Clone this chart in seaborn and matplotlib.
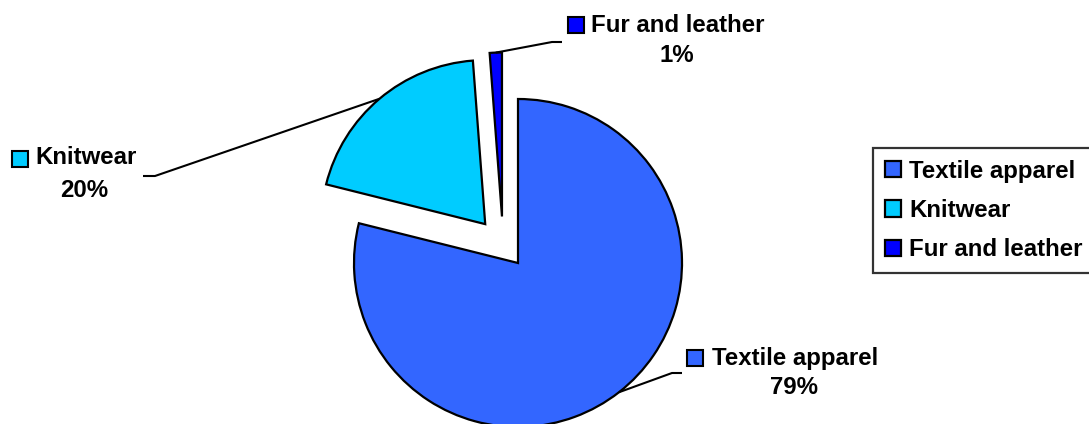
import numpy as np
import matplotlib
matplotlib.use("Agg")
import matplotlib.pyplot as plt
import seaborn as sns

categories = ["Textile apparel", "Knitwear", "Fur and leather"]
values = [78.9, 19.9, 1.2]
pct_labels = ["79%", "20%", "1%"]

sns.set_style("white")
plt.rcParams['font.family'] = ['Liberation Sans', 'DejaVu Sans']
plt.rcParams['text.color'] = 'black'
colors = sns.color_palette(["#3366FF", "#00CCFF", "#0000FF"])

W, H = 1089, 424
R = 164.0          # pie radius in pixels
CX, CY = 518, 263  # pie centre in pixels (from top-left)

fig = plt.figure(figsize=(W / 100, H / 100), dpi=100)
ax = fig.add_axes([0, 0, 1, 1])

def p2d(px, py):
    return ((px - CX) / R, (CY - py) / R)

wedges, _ = ax.pie(values, colors=colors, startangle=90, counterclock=False,
                   explode=[0, 0.31, 0.30], radius=1.0,
                   wedgeprops=dict(edgecolor="black", linewidth=1.6))
# fur slice displacement as drawn in the reference
ang = np.deg2rad(109)
wedges[2].set_center((0.30 * np.cos(ang), 0.30 * np.sin(ang)))

ax.set_xlim(-CX / R, (W - CX) / R)
ax.set_ylim(-(H - CY) / R, CY / R)
ax.set_aspect('auto')
ax.axis('off')

layout = {
    "Textile apparel": dict(sq=(695, 358), tx=712, cx=794, ny=358, py=388, elbow=(672, 373), end=(682, 373)),
    "Knitwear": dict(sq=(20, 159), tx=35, cx=84, ny=158, py=190, elbow=(155, 176), end=(143, 176)),
    "Fur and leather": dict(sq=(576, 25), tx=591, cx=677, ny=25, py=56, elbow=(552, 42), end=(562, 42)),
}

fs = 17.3
for w, name, pct, col in zip(wedges, categories, pct_labels, colors):
    L = layout[name]
    mid = np.deg2rad((w.theta1 + w.theta2) / 2)
    cx, cy = w.center
    ax0 = (cx + w.r * np.cos(mid), cy + w.r * np.sin(mid))
    e = p2d(*L["elbow"])
    en = p2d(*L["end"])
    ax.plot([ax0[0], e[0], en[0]], [ax0[1], e[1], en[1]], color="black", lw=1.5,
            solid_capstyle="butt", zorder=3)
    sx, sy = p2d(*L["sq"])
    ax.plot([sx], [sy], marker="s", ms=11.5, mfc=col, mec="black", mew=1.5, zorder=4)
    tx, ty = p2d(L["tx"], L["ny"])
    ax.text(tx, ty, name, fontsize=fs, fontweight="bold", ha="left", va="center", color="black")
    px_, py_ = p2d(L["cx"], L["py"])
    ax.text(px_, py_, pct, fontsize=fs, fontweight="bold", ha="center", va="center", color="black")

leg = ax.legend(wedges, categories, loc="upper left",
                bbox_to_anchor=(873 / W, 1 - 148 / H), bbox_transform=fig.transFigure,
                prop=dict(size=fs, weight="bold"), frameon=True, fancybox=False,
                handlelength=0.68, handleheight=0.68, handletextpad=0.35,
                labelspacing=0.68, borderpad=0.48, borderaxespad=0)
for t in leg.get_texts():
    t.set_color("black")
leg.get_frame().set_edgecolor("black")
leg.get_frame().set_linewidth(1.6)

fig.savefig("out.png", dpi=100)
